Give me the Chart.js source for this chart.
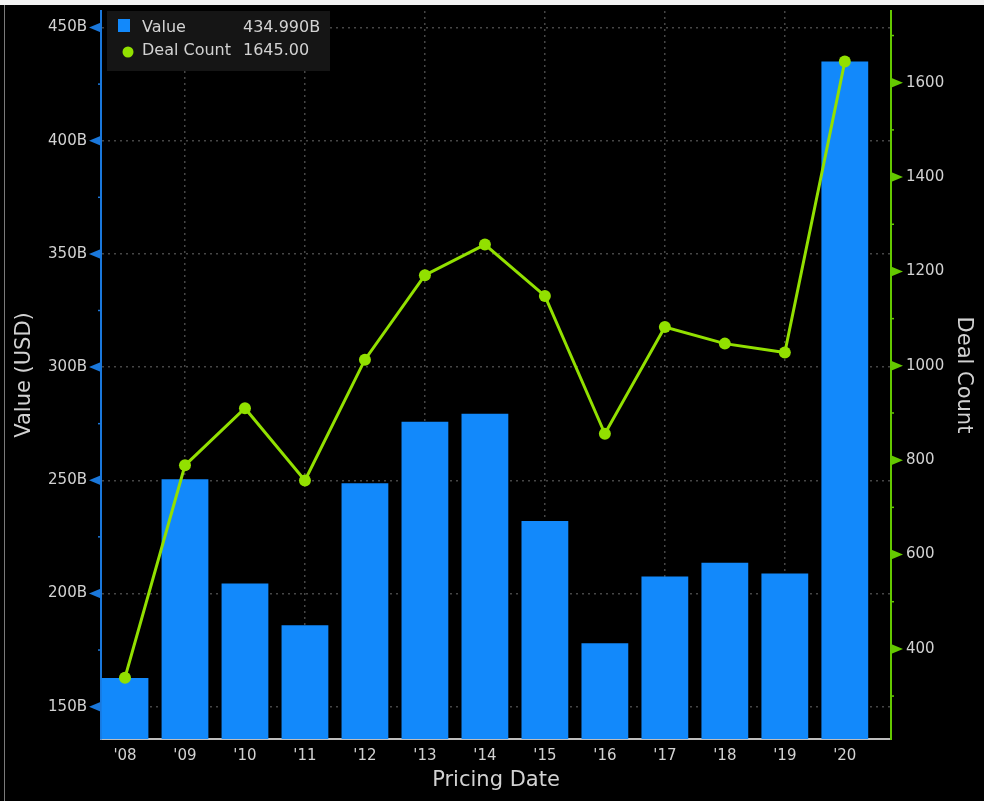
<!DOCTYPE html>
<html>
<head>
<meta charset="utf-8">
<script src="https://cdn.jsdelivr.net/npm/chart.js@4/dist/chart.umd.min.js"></script>
<style>
  html, body { margin: 0; padding: 0; background: #f2f2f2; }
  #wrap { position: absolute; left: 0; top: 5px; width: 984px; height: 796px; background: #000; }
  #edge { position: absolute; left: 4px; top: 0; width: 1px; height: 796px; background: #7a7a7a; }
</style>
</head>
<body>
<div id="wrap"><canvas id="chart" width="984" height="796"></canvas><div id="edge"></div></div>
<script>
// data
var categories = ["'08", "'09", "'10", "'11", "'12", "'13", "'14", "'15", "'16", "'17", "'18", "'19", "'20"];
var valueB = [162.7, 250.4, 204.4, 186.0, 248.7, 275.9, 279.4, 232.0, 178.0, 207.5, 213.6, 208.8, 434.99];
var dealCount = [339, 789, 910, 757, 1013, 1192, 1257, 1148, 856, 1082, 1047, 1028, 1645];
var valueTicks = [150, 200, 250, 300, 350, 400, 450];
var countTicks = [400, 600, 800, 1000, 1200, 1400, 1600];

var barColor = '#1289fb';
var lineColor = '#92e000';
var leftAxisColor = '#1a78dc';
var rightAxisColor = '#64c800';
var textColor = '#d2d2d2';
var gridColor = '#464646';
var font = '"DejaVu Sans", Verdana, sans-serif';

// major ticks plus a minor tick halfway between each
function withMinors(majors, min, max) {
  var step = majors[1] - majors[0];
  var out = [];
  majors.forEach(function (m) { out.push(m - step / 2, m); });
  out.push(majors[majors.length - 1] + step / 2);
  return out.filter(function (v) { return v >= min && v <= max; })
            .map(function (v) { return { value: v }; });
}

function noPad(s) { s.paddingTop = 0; s.paddingBottom = 0; s.paddingLeft = 0; s.paddingRight = 0; }

var yMin = 135.7, yMax = 457.3, y1Min = 209, y1Max = 1752;

var axisMarks = {
  id: 'axisMarks',
  afterDraw: function (chart) {
    var ctx = chart.ctx;
    [['y', -1, leftAxisColor], ['y1', 1, rightAxisColor]].forEach(function (s) {
      var scale = chart.scales[s[0]], dir = s[1];
      var x0 = dir < 0 ? chart.chartArea.left : chart.chartArea.right;
      ctx.save();
      ctx.fillStyle = s[2];
      ctx.strokeStyle = s[2];
      ctx.lineWidth = 1.5;
      scale.ticks.forEach(function (t) {
        var y = scale.getPixelForValue(t.value);
        ctx.beginPath();
        if (t.label !== '') {
          ctx.moveTo(x0, y - 5);
          ctx.lineTo(x0 + dir * 12, y);
          ctx.lineTo(x0, y + 5);
          ctx.closePath();
          ctx.fill();
        } else {
          ctx.moveTo(x0, y);
          ctx.lineTo(x0 + dir * 3, y);
          ctx.stroke();
        }
      });
      ctx.restore();
    });
  }
};

var legendBox = {
  id: 'legendBox',
  afterDatasetsDraw: function (chart) {
    var ctx = chart.ctx, a = chart.chartArea;
    var x = a.left + 6, y = a.top;
    var last = categories.length - 1;
    ctx.save();
    ctx.fillStyle = '#151515';
    ctx.fillRect(x, y, 223, 60);
    ctx.font = '16px ' + font;
    ctx.textBaseline = 'middle';
    ctx.textAlign = 'left';
    ctx.fillStyle = barColor;
    ctx.fillRect(x + 11, y + 8, 12, 13);
    ctx.fillStyle = lineColor;
    ctx.beginPath();
    ctx.arc(x + 21, y + 41, 5.5, 0, Math.PI * 2);
    ctx.fill();
    ctx.fillStyle = textColor;
    ctx.fillText(chart.data.datasets[0].label, x + 35, y + 17);
    ctx.fillText(valueB[last].toFixed(3) + 'B', x + 136, y + 17);
    ctx.fillText(chart.data.datasets[1].label, x + 35, y + 40);
    ctx.fillText(dealCount[last].toFixed(2), x + 136, y + 40);
    ctx.restore();
  }
};

new Chart(document.getElementById('chart'), {
  type: 'bar',
  data: {
    datasets: [
      {
        type: 'bar',
        label: 'Value',
        data: valueB.map(function (v, i) { return { x: i, y: v }; }),
        backgroundColor: barColor,
        yAxisID: 'y',
        categoryPercentage: 1,
        barPercentage: 0.78,
        order: 2
      },
      {
        type: 'line',
        label: 'Deal Count',
        data: dealCount.map(function (v, i) { return { x: i, y: v }; }),
        borderColor: lineColor,
        backgroundColor: lineColor,
        borderWidth: 3,
        pointRadius: 6,
        pointBackgroundColor: lineColor,
        pointBorderWidth: 0,
        tension: 0,
        yAxisID: 'y1',
        order: 1
      }
    ]
  },
  options: {
    responsive: false,
    devicePixelRatio: 1,
    animation: false,
    layout: { padding: 0 },
    plugins: {
      legend: { display: false },
      tooltip: { enabled: false }
    },
    scales: {
      x: {
        type: 'linear',
        min: -0.4,
        max: 12.77,
        offset: false,
        afterBuildTicks: function (s) { s.ticks = categories.map(function (c, i) { return { value: i }; }); },
        afterFit: function (s) { s.height = 62; noPad(s); },
        ticks: {
          autoSkip: false,
          maxRotation: 0,
          padding: 8,
          color: textColor,
          font: { family: font, size: 15 },
          callback: function (v) { return categories[v]; }
        },
        grid: {
          offset: false,
          drawTicks: false,
          lineWidth: 1.5,
          color: function (c) { return c.tick && c.tick.value % 2 === 1 ? gridColor : 'rgba(0,0,0,0)'; }
        },
        border: { color: '#bdbdbd', width: 2, dash: [2, 4] },
        title: {
          display: true,
          text: 'Pricing Date',
          color: textColor,
          font: { family: font, size: 21 },
          padding: { top: 0, bottom: 8 }
        }
      },
      y: {
        position: 'left',
        min: yMin,
        max: yMax,
        afterBuildTicks: function (s) { s.ticks = withMinors(valueTicks, yMin, yMax); },
        afterFit: function (s) { s.width = 101; noPad(s); },
        ticks: {
          autoSkip: false,
          padding: 14,
          color: textColor,
          font: { family: font, size: 15 },
          callback: function (v) { return valueTicks.indexOf(v) >= 0 ? v + 'B' : ''; }
        },
        grid: {
          drawTicks: false,
          lineWidth: 1.5,
          color: function (c) { return c.tick && valueTicks.indexOf(c.tick.value) >= 0 ? gridColor : 'rgba(0,0,0,0)'; }
        },
        border: { color: leftAxisColor, width: 2, dash: [2, 4] },
        title: {
          display: true,
          text: 'Value (USD)',
          color: textColor,
          font: { family: font, size: 21 },
          padding: { top: 12, bottom: 0 }
        }
      },
      y1: {
        position: 'right',
        min: y1Min,
        max: y1Max,
        afterBuildTicks: function (s) { s.ticks = withMinors(countTicks, y1Min, y1Max); },
        afterFit: function (s) { s.width = 93; noPad(s); },
        ticks: {
          autoSkip: false,
          padding: 15,
          color: textColor,
          font: { family: font, size: 15 },
          callback: function (v) { return countTicks.indexOf(v) >= 0 ? String(v) : ''; }
        },
        grid: { drawOnChartArea: false, drawTicks: false },
        border: { color: rightAxisColor, width: 2 },
        title: {
          display: true,
          text: 'Deal Count',
          color: textColor,
          font: { family: font, size: 21 },
          padding: { top: 8, bottom: 0 }
        }
      }
    }
  },
  plugins: [axisMarks, legendBox]
});
</script>
</body>
</html>
